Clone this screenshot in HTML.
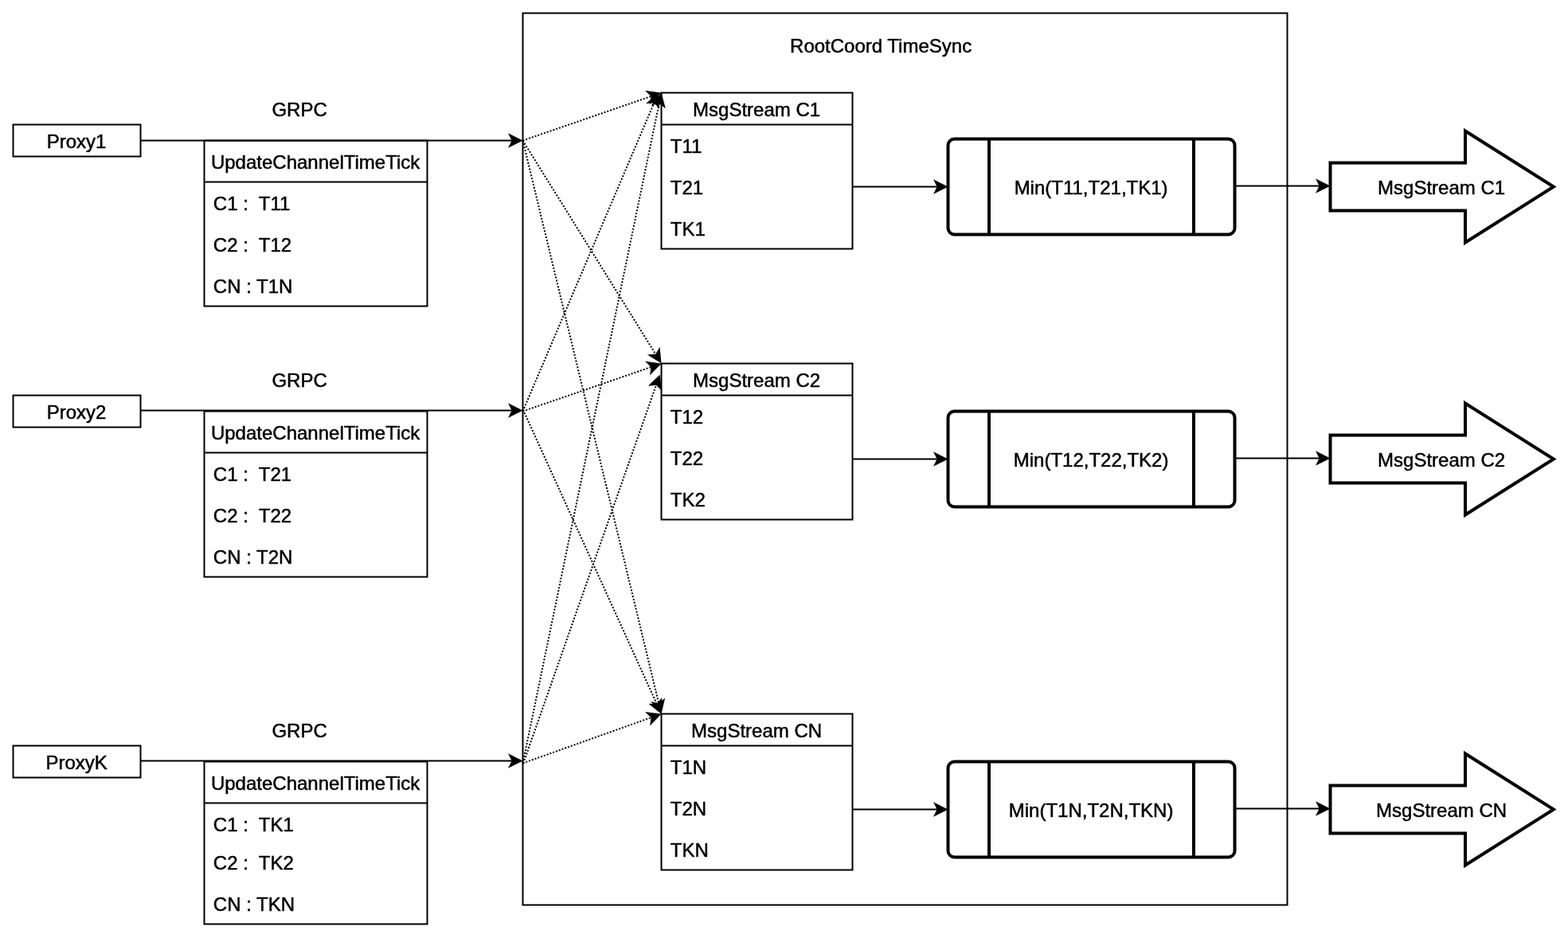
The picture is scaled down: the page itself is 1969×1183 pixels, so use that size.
<!DOCTYPE html>
<html lang="en">
<head>
<meta charset="utf-8">
<title>RootCoord TimeSync</title>
<style>
html,body{margin:0;padding:0;background:#fff;}
body{width:1969px;height:1183px;}
svg{display:block;}
svg text{font-family:'Liberation Sans', sans-serif;font-size:24px;fill:#000;stroke:#000;stroke-width:0.5px;stroke-linejoin:round;white-space:pre;}
</style>
</head>
<body>
<svg width="1969" height="1183" viewBox="0 0 1969 1183" style="will-change:transform;filter:grayscale(1)">
<rect x="0" y="0" width="1969" height="1183" fill="#fff"/>
<rect x="656.5" y="16.5" width="960" height="1120" fill="#fff" stroke="#000" stroke-width="2"/>
<text x="1106.1" y="66.0" text-anchor="middle" xml:space="preserve">RootCoord TimeSync</text>
<rect x="16.5" y="156.5" width="160" height="40" fill="#fff" stroke="#000" stroke-width="2"/>
<text x="96.1" y="186.0" text-anchor="middle" xml:space="preserve">Proxy1</text>
<rect x="256.5" y="176.5" width="280" height="208" fill="#fff" stroke="#000" stroke-width="2"/>
<path d="M 256.5 228.5 L 536.5 228.5" fill="none" stroke="#000" stroke-width="2" stroke-miterlimit="10"/>
<text x="396.1" y="212.0" text-anchor="middle" xml:space="preserve">UpdateChannelTimeTick</text>
<text x="267.8" y="264.0" text-anchor="start" xml:space="preserve">C1 :  T11</text>
<text x="267.8" y="316.0" text-anchor="start" xml:space="preserve">C2 :  T12</text>
<text x="267.8" y="368.0" text-anchor="start" xml:space="preserve">CN : T1N</text>
<text x="376.1" y="146.0" text-anchor="middle" xml:space="preserve">GRPC</text>
<path d="M 176.5 176.5 L 643.76 176.5" fill="none" stroke="#000" stroke-width="2" stroke-miterlimit="10"/>
<path d="M 654.26 176.50 L 640.26 183.50 L 643.76 176.50 L 640.26 169.50 Z" fill="#000" stroke="#000" stroke-width="2" stroke-miterlimit="10"/>
<rect x="16.5" y="496.5" width="160" height="40" fill="#fff" stroke="#000" stroke-width="2"/>
<text x="96.1" y="526.0" text-anchor="middle" xml:space="preserve">Proxy2</text>
<rect x="256.5" y="516.5" width="280" height="208" fill="#fff" stroke="#000" stroke-width="2"/>
<path d="M 256.5 568.5 L 536.5 568.5" fill="none" stroke="#000" stroke-width="2" stroke-miterlimit="10"/>
<text x="396.1" y="552.0" text-anchor="middle" xml:space="preserve">UpdateChannelTimeTick</text>
<text x="267.8" y="604.0" text-anchor="start" xml:space="preserve">C1 :  T21</text>
<text x="267.8" y="656.0" text-anchor="start" xml:space="preserve">C2 :  T22</text>
<text x="267.8" y="708.0" text-anchor="start" xml:space="preserve">CN : T2N</text>
<text x="376.1" y="486.0" text-anchor="middle" xml:space="preserve">GRPC</text>
<path d="M 176.5 515.5 L 643.76 515.5" fill="none" stroke="#000" stroke-width="2" stroke-miterlimit="10"/>
<path d="M 654.26 515.50 L 640.26 522.50 L 643.76 515.50 L 640.26 508.50 Z" fill="#000" stroke="#000" stroke-width="2" stroke-miterlimit="10"/>
<rect x="16.5" y="936.5" width="160" height="40" fill="#fff" stroke="#000" stroke-width="2"/>
<text x="96.1" y="966.0" text-anchor="middle" xml:space="preserve">ProxyK</text>
<rect x="256.5" y="956.5" width="280" height="204" fill="#fff" stroke="#000" stroke-width="2"/>
<path d="M 256.5 1008.5 L 536.5 1008.5" fill="none" stroke="#000" stroke-width="2" stroke-miterlimit="10"/>
<text x="396.1" y="992.0" text-anchor="middle" xml:space="preserve">UpdateChannelTimeTick</text>
<text x="267.8" y="1044.0" text-anchor="start" xml:space="preserve">C1 :  TK1</text>
<text x="267.8" y="1092.0" text-anchor="start" xml:space="preserve">C2 :  TK2</text>
<text x="267.8" y="1144.0" text-anchor="start" xml:space="preserve">CN : TKN</text>
<text x="376.1" y="926.0" text-anchor="middle" xml:space="preserve">GRPC</text>
<path d="M 176.5 955.5 L 643.76 955.5" fill="none" stroke="#000" stroke-width="2" stroke-miterlimit="10"/>
<path d="M 654.26 955.50 L 640.26 962.50 L 643.76 955.50 L 640.26 948.50 Z" fill="#000" stroke="#000" stroke-width="2" stroke-miterlimit="10"/>
<rect x="830.5" y="116.5" width="240" height="196" fill="#fff" stroke="#000" stroke-width="2"/>
<path d="M 830.5 156.5 L 1070.5 156.5" fill="none" stroke="#000" stroke-width="2" stroke-miterlimit="10"/>
<text x="950.1" y="146.0" text-anchor="middle" xml:space="preserve">MsgStream C1</text>
<text x="841.8" y="192.0" text-anchor="start" xml:space="preserve">T11</text>
<text x="841.8" y="244.0" text-anchor="start" xml:space="preserve">T21</text>
<text x="841.8" y="296.0" text-anchor="start" xml:space="preserve">TK1</text>
<rect x="1190.5" y="174.5" width="360" height="120" fill="#fff" stroke="#000" stroke-width="4" rx="8" ry="8"/>
<path d="M 1242 174.5 L 1242 294.5" fill="none" stroke="#000" stroke-width="4" stroke-miterlimit="10"/>
<path d="M 1499 174.5 L 1499 294.5" fill="none" stroke="#000" stroke-width="4" stroke-miterlimit="10"/>
<text x="1370.1" y="244.0" text-anchor="middle" xml:space="preserve">Min(T11,T21,TK1)</text>
<path d="M 1070.5 234.5 L 1177.76 234.5" fill="none" stroke="#000" stroke-width="2" stroke-miterlimit="10"/>
<path d="M 1188.26 234.50 L 1174.26 241.50 L 1177.76 234.50 L 1174.26 227.50 Z" fill="#000" stroke="#000" stroke-width="2" stroke-miterlimit="10"/>
<path d="M 1670.5 204.5 L 1840 204.5 L 1840 164.5 L 1950.9 234.5 L 1840 304.5 L 1840 264.5 L 1670.5 264.5 Z" fill="#fff" stroke="#000" stroke-width="4" stroke-miterlimit="10"/>
<text x="1810.1" y="244.0" text-anchor="middle" xml:space="preserve">MsgStream C1</text>
<path d="M 1550.5 233.5 L 1657.76 233.5" fill="none" stroke="#000" stroke-width="2" stroke-miterlimit="10"/>
<path d="M 1668.26 233.50 L 1654.26 240.50 L 1657.76 233.50 L 1654.26 226.50 Z" fill="#000" stroke="#000" stroke-width="2" stroke-miterlimit="10"/>
<rect x="830.5" y="456.5" width="240" height="196" fill="#fff" stroke="#000" stroke-width="2"/>
<path d="M 830.5 496.5 L 1070.5 496.5" fill="none" stroke="#000" stroke-width="2" stroke-miterlimit="10"/>
<text x="950.1" y="486.0" text-anchor="middle" xml:space="preserve">MsgStream C2</text>
<text x="841.8" y="532.0" text-anchor="start" xml:space="preserve">T12</text>
<text x="841.8" y="584.0" text-anchor="start" xml:space="preserve">T22</text>
<text x="841.8" y="636.0" text-anchor="start" xml:space="preserve">TK2</text>
<rect x="1190.5" y="516.5" width="360" height="120" fill="#fff" stroke="#000" stroke-width="4" rx="8" ry="8"/>
<path d="M 1242 516.5 L 1242 636.5" fill="none" stroke="#000" stroke-width="4" stroke-miterlimit="10"/>
<path d="M 1499 516.5 L 1499 636.5" fill="none" stroke="#000" stroke-width="4" stroke-miterlimit="10"/>
<text x="1370.1" y="586.0" text-anchor="middle" xml:space="preserve">Min(T12,T22,TK2)</text>
<path d="M 1070.5 576.5 L 1177.76 576.5" fill="none" stroke="#000" stroke-width="2" stroke-miterlimit="10"/>
<path d="M 1188.26 576.50 L 1174.26 583.50 L 1177.76 576.50 L 1174.26 569.50 Z" fill="#000" stroke="#000" stroke-width="2" stroke-miterlimit="10"/>
<path d="M 1670.5 546.5 L 1840 546.5 L 1840 506.5 L 1950.9 576.5 L 1840 646.5 L 1840 606.5 L 1670.5 606.5 Z" fill="#fff" stroke="#000" stroke-width="4" stroke-miterlimit="10"/>
<text x="1810.1" y="586.0" text-anchor="middle" xml:space="preserve">MsgStream C2</text>
<path d="M 1550.5 575.5 L 1657.76 575.5" fill="none" stroke="#000" stroke-width="2" stroke-miterlimit="10"/>
<path d="M 1668.26 575.50 L 1654.26 582.50 L 1657.76 575.50 L 1654.26 568.50 Z" fill="#000" stroke="#000" stroke-width="2" stroke-miterlimit="10"/>
<rect x="830.5" y="896.5" width="240" height="196" fill="#fff" stroke="#000" stroke-width="2"/>
<path d="M 830.5 936.5 L 1070.5 936.5" fill="none" stroke="#000" stroke-width="2" stroke-miterlimit="10"/>
<text x="950.1" y="926.0" text-anchor="middle" xml:space="preserve">MsgStream CN</text>
<text x="841.8" y="972.0" text-anchor="start" xml:space="preserve">T1N</text>
<text x="841.8" y="1024.0" text-anchor="start" xml:space="preserve">T2N</text>
<text x="841.8" y="1076.0" text-anchor="start" xml:space="preserve">TKN</text>
<rect x="1190.5" y="956.5" width="360" height="120" fill="#fff" stroke="#000" stroke-width="4" rx="8" ry="8"/>
<path d="M 1242 956.5 L 1242 1076.5" fill="none" stroke="#000" stroke-width="4" stroke-miterlimit="10"/>
<path d="M 1499 956.5 L 1499 1076.5" fill="none" stroke="#000" stroke-width="4" stroke-miterlimit="10"/>
<text x="1370.1" y="1026.0" text-anchor="middle" xml:space="preserve">Min(T1N,T2N,TKN)</text>
<path d="M 1070.5 1016.5 L 1177.76 1016.5" fill="none" stroke="#000" stroke-width="2" stroke-miterlimit="10"/>
<path d="M 1188.26 1016.50 L 1174.26 1023.50 L 1177.76 1016.50 L 1174.26 1009.50 Z" fill="#000" stroke="#000" stroke-width="2" stroke-miterlimit="10"/>
<path d="M 1670.5 986.5 L 1840 986.5 L 1840 946.5 L 1950.9 1016.5 L 1840 1086.5 L 1840 1046.5 L 1670.5 1046.5 Z" fill="#fff" stroke="#000" stroke-width="4" stroke-miterlimit="10"/>
<text x="1810.1" y="1026.0" text-anchor="middle" xml:space="preserve">MsgStream CN</text>
<path d="M 1550.5 1015.5 L 1657.76 1015.5" fill="none" stroke="#000" stroke-width="2" stroke-miterlimit="10"/>
<path d="M 1668.26 1015.50 L 1654.26 1022.50 L 1657.76 1015.50 L 1654.26 1008.50 Z" fill="#000" stroke="#000" stroke-width="2" stroke-miterlimit="10"/>
<path d="M 656.5 176.5 L 818.46 120.65" fill="none" stroke="#000" stroke-width="2" stroke-miterlimit="10" stroke-dasharray="2 2"/>
<path d="M 828.39 117.23 L 817.43 128.41 L 818.46 120.65 L 812.87 115.18 Z" fill="#000" stroke="#000" stroke-width="2" stroke-miterlimit="10"/>
<path d="M 656.5 516.5 L 821.81 128.22" fill="none" stroke="#000" stroke-width="2" stroke-miterlimit="10" stroke-dasharray="2 2"/>
<path d="M 825.92 118.56 L 826.88 134.18 L 821.81 128.22 L 814.00 128.70 Z" fill="#000" stroke="#000" stroke-width="2" stroke-miterlimit="10"/>
<path d="M 656.5 958.5 L 827.92 128.87" fill="none" stroke="#000" stroke-width="2" stroke-miterlimit="10" stroke-dasharray="2 2"/>
<path d="M 830.05 118.59 L 834.07 133.72 L 827.92 128.87 L 820.36 130.88 Z" fill="#000" stroke="#000" stroke-width="2" stroke-miterlimit="10"/>
<path d="M 656.5 176.5 L 823.78 445.58" fill="none" stroke="#000" stroke-width="2" stroke-miterlimit="10" stroke-dasharray="2 2"/>
<path d="M 829.32 454.50 L 815.98 446.31 L 823.78 445.58 L 827.87 438.92 Z" fill="#000" stroke="#000" stroke-width="2" stroke-miterlimit="10"/>
<path d="M 656.5 516.5 L 818.46 460.65" fill="none" stroke="#000" stroke-width="2" stroke-miterlimit="10" stroke-dasharray="2 2"/>
<path d="M 828.39 457.23 L 817.43 468.41 L 818.46 460.65 L 812.87 455.18 Z" fill="#000" stroke="#000" stroke-width="2" stroke-miterlimit="10"/>
<path d="M 657.1 958.7 L 824.38 482.52" fill="none" stroke="#000" stroke-width="2" stroke-miterlimit="10" stroke-dasharray="2 2"/>
<path d="M 827.86 472.61 L 829.82 488.14 L 824.38 482.52 L 816.61 483.50 Z" fill="#000" stroke="#000" stroke-width="2" stroke-miterlimit="10"/>
<path d="M 656.5 176.5 L 827.51 884.32" fill="none" stroke="#000" stroke-width="2" stroke-miterlimit="10" stroke-dasharray="2 2"/>
<path d="M 829.97 894.53 L 819.88 882.56 L 827.51 884.32 L 833.49 879.27 Z" fill="#000" stroke="#000" stroke-width="2" stroke-miterlimit="10"/>
<path d="M 656.8 514.5 L 825.23 885.11" fill="none" stroke="#000" stroke-width="2" stroke-miterlimit="10" stroke-dasharray="2 2"/>
<path d="M 829.57 894.66 L 817.41 884.82 L 825.23 885.11 L 830.16 879.02 Z" fill="#000" stroke="#000" stroke-width="2" stroke-miterlimit="10"/>
<path d="M 656.5 958.5 L 818.5 900.77" fill="none" stroke="#000" stroke-width="2" stroke-miterlimit="10" stroke-dasharray="2 2"/>
<path d="M 828.39 897.25 L 817.56 908.54 L 818.50 900.77 L 812.86 895.36 Z" fill="#000" stroke="#000" stroke-width="2" stroke-miterlimit="10"/>
</svg>
</body>
</html>
